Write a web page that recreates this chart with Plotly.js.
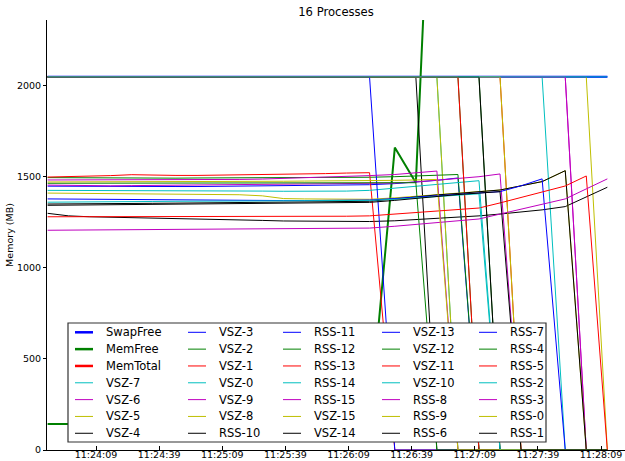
<!DOCTYPE html>
<html><head><meta charset="utf-8">
<script src="https://cdn.plot.ly/plotly-3.0.1.min.js"></script>
<style>html,body{margin:0;padding:0;background:#fff}#chart{width:625px;height:461px}</style>
</head><body><div id="chart"></div>
<script>
// ---- data ----
const day = '2024-01-01 ';
const times = ["11:23:46","11:23:56","11:24:06","11:24:16","11:24:26","11:24:36","11:24:47","11:24:57","11:25:07","11:25:17","11:25:28","11:25:38","11:25:48","11:25:58","11:26:08","11:26:19","11:26:31","11:26:41","11:26:51","11:27:01","11:27:11","11:27:21","11:27:31","11:27:41","11:27:52","11:28:02","11:28:12"];
const tickLabels = ["11:24:09","11:24:39","11:25:09","11:25:39","11:26:09","11:26:39","11:27:09","11:27:39","11:28:09"];
const yTicks = [0,500,1000,1500,2000];

const swapFree = [2048,2048,2048,2048,2048,2048,2048,2048,2048,2048,2048,2048,2048,2048,2048,2048,2048,2048,2048,2048,2048,2048,2048,2048,2048,2048,2048];
const memFree  = [143,143,143,143,143,143,143,143,143,143,143,143,143,143,143,143,1660,1467,4050,4060,4065,4070,4075,4078,4080,4083,4085];
const memTotal = [4096,4096,4096,4096,4096,4096,4096,4096,4096,4096,4096,4096,4096,4096,4096,4096,4096,4096,4096,4096,4096,4096,4096,4096,4096,4096,4096];

const vsz0  = [2048,2048,2048,2048,2048,2048,2048,2048,2048,2048,2048,2048,2048,2048,2048,2048,2048,2048,2048,0,0,0,0,0,0,0,0];
const vsz1  = [2048,2048,2048,2048,2048,2048,2048,2048,2048,2048,2048,2048,2048,2048,2048,2048,2048,2048,2048,2048,2048,2048,0,0,0,0,0];
const vsz2  = [2048,2048,2048,2048,2048,2048,2048,2048,2048,2048,2048,2048,2048,2048,2048,2048,2048,2048,2048,2048,2048,0,0,0,0,0,0];
const vsz3  = [2048,2048,2048,2048,2048,2048,2048,2048,2048,2048,2048,2048,2048,2048,2048,2048,2048,2048,2048,2048,2048,2048,2048,2048,2048,2048,2048];
const vsz4  = [2048,2048,2048,2048,2048,2048,2048,2048,2048,2048,2048,2048,2048,2048,2048,2048,2048,2048,0,0,0,0,0,0,0,0,0];
const vsz5  = [2048,2048,2048,2048,2048,2048,2048,2048,2048,2048,2048,2048,2048,2048,2048,2048,2048,2048,2048,2048,2048,2048,2048,2048,2048,2048,0];
const vsz6  = [2048,2048,2048,2048,2048,2048,2048,2048,2048,2048,2048,2048,2048,2048,2048,2048,2048,2048,2048,2048,2048,2048,2048,2048,2048,0,0];
const vsz7  = [2048,2048,2048,2048,2048,2048,2048,2048,2048,2048,2048,2048,2048,2048,2048,2048,2048,2048,2048,2048,2048,2048,2048,2048,0,0,0];
const vsz8  = [2048,2048,2048,2048,2048,2048,2048,2048,2048,2048,2048,2048,2048,2048,2048,2048,2048,2048,2048,0,0,0,0,0,0,0,0];
const vsz9  = [2048,2048,2048,2048,2048,2048,2048,2048,2048,2048,2048,2048,2048,2048,2048,2048,2048,2048,2048,2048,2048,2048,2048,2048,2048,0,0];
const vsz10 = [2048,2048,2048,2048,2048,2048,2048,2048,2048,2048,2048,2048,2048,2048,2048,2048,2048,2048,2048,2048,2048,2048,2048,2048,2048,2048,2048];
const vsz11 = [2048,2048,2048,2048,2048,2048,2048,2048,2048,2048,2048,2048,2048,2048,2048,2048,2048,2048,2048,2048,0,0,0,0,0,0,0];
const vsz12 = [2048,2048,2048,2048,2048,2048,2048,2048,2048,2048,2048,2048,2048,2048,2048,2048,2048,2048,2048,2048,0,0,0,0,0,0,0];
const vsz13 = [2048,2048,2048,2048,2048,2048,2048,2048,2048,2048,2048,2048,2048,2048,2048,2048,0,0,0,0,0,0,0,0,0,0,0];
const vsz14 = [2048,2048,2048,2048,2048,2048,2048,2048,2048,2048,2048,2048,2048,2048,2048,2048,2048,2048,2048,2048,2048,0,0,0,0,0,0];
const vsz15 = [2048,2048,2048,2048,2048,2048,2048,2048,2048,2048,2048,2048,2048,2048,2048,2048,2048,2048,2048,2048,2048,2048,0,0,0,0,0];

const rss0  = [1471,1471,1472,1472,1472,1473,1473,1473,1474,1474,1475,1475,1476,1476,1477,1478,1480,1482,1485,0,0,0,0,0,0,0,0];
const rss1  = [1343,1344,1345,1346,1347,1348,1349,1350,1351,1352,1353,1354,1355,1356,1357,1359,1370,1382,1393,1402,1410,1418,0,0,0,0,0];
const rss2  = [1360,1360,1361,1362,1363,1364,1365,1366,1366,1367,1367,1367,1368,1368,1369,1370,1376,1384,1392,1400,1406,0,0,0,0,0,0];
const rss3  = [1206,1207,1208,1209,1210,1210,1211,1212,1213,1213,1214,1214,1215,1215,1216,1218,1228,1238,1248,1258,1268,1295,1323,1350,1378,1433,1488];
const rss4  = [1464,1464,1464,1463,1463,1463,1463,1464,1464,1464,1465,1465,1465,1465,1466,1466,1466,1467,0,0,0,0,0,0,0,0,0];
const rss5  = [1280,1280,1281,1281,1281,1281,1281,1281,1281,1281,1281,1281,1281,1282,1283,1285,1295,1305,1312,1320,1328,1356,1386,1416,1449,1504,0];
const rss6  = [1350,1350,1351,1352,1353,1354,1355,1356,1357,1358,1359,1360,1361,1362,1363,1365,1378,1390,1400,1408,1416,1427,1450,1473,1533,0,0];
const rss7  = [1378,1377,1376,1376,1375,1374,1372,1370,1369,1369,1369,1369,1369,1370,1370,1372,1380,1388,1395,1402,1409,1418,1450,1488,0,0,0];
const rss8  = [1482,1482,1481,1481,1481,1482,1483,1483,1484,1485,1487,1490,1495,1500,1503,1506,1512,1520,1531,0,0,0,0,0,0,0,0];
const rss9  = [1410,1409,1408,1407,1406,1405,1404,1403,1402,1401,1395,1380,1378,1377,1377,1376,1384,1392,1400,1408,1416,1427,1450,1473,1533,0,0];
const rss10 = [1299,1285,1280,1278,1276,1274,1272,1270,1268,1265,1260,1257,1256,1255,1254,1254,1258,1264,1270,1277,1285,1295,1305,1318,1336,1390,1442];
const rss11 = [1448,1447,1446,1445,1445,1445,1446,1446,1447,1447,1448,1449,1450,1452,1454,1456,1462,1470,1480,1493,0,0,0,0,0,0,0];
const rss12 = [1495,1494,1493,1492,1492,1492,1492,1493,1493,1493,1494,1494,1495,1495,1496,1497,1500,1503,1507,1512,0,0,0,0,0,0,0];
const rss13 = [1498,1500,1503,1506,1511,1508,1507,1507,1508,1509,1510,1512,1514,1517,1520,1522,0,0,0,0,0,0,0,0,0,0,0];
const rss14 = [1425,1425,1424,1424,1424,1423,1423,1422,1422,1421,1421,1420,1420,1420,1421,1425,1437,1448,1458,1468,1478,0,0,0,0,0,0];
const rss15 = [1454,1452,1450,1450,1451,1452,1452,1453,1453,1454,1455,1456,1457,1458,1459,1460,1465,1471,1480,1490,1500,1515,0,0,0,0,0];

// series in plotting / legend order
const seriesNames = ["SwapFree","MemFree","MemTotal","VSZ-7","VSZ-6","VSZ-5","VSZ-4","VSZ-3","VSZ-2","VSZ-1","VSZ-0","VSZ-9","VSZ-8","RSS-10","RSS-11","RSS-12","RSS-13","RSS-14","RSS-15","VSZ-15","VSZ-14","VSZ-13","VSZ-12","VSZ-11","VSZ-10","RSS-8","RSS-9","RSS-6","RSS-7","RSS-4","RSS-5","RSS-2","RSS-3","RSS-0","RSS-1"];
const seriesValues = [swapFree,memFree,memTotal,vsz7,vsz6,vsz5,vsz4,vsz3,vsz2,vsz1,vsz0,vsz9,vsz8,rss10,rss11,rss12,rss13,rss14,rss15,vsz15,vsz14,vsz13,vsz12,vsz11,vsz10,rss8,rss9,rss6,rss7,rss4,rss5,rss2,rss3,rss0,rss1];
const colorCycle = ['#0000ff','#008000','#ff0000','#00bfbf','#bf00bf','#bfbf00','#000000'];

// ---- layout geometry (pixels) ----
const FONT = 'DejaVu Sans, sans-serif';
const L = 47, T = 20, R = 625, B = 450;
const pw = R - L, ph = B - T;
const px2x = p => (p - L) / pw;
const py2y = p => (B - p) / ph;

const xs = times.map(t => day + t);
const traces = seriesNames.map((n, i) => ({
  type: 'scatter', mode: 'lines', name: n, x: xs, y: seriesValues[i],
  line: {color: colorCycle[i % 7], width: i < 3 ? 2 : 1},
  showlegend: false, hoverinfo: 'skip'
}));

// legend drawn as shapes + text, 5 columns x 7 rows, column-major
const shapes = [{type:'rect', xref:'paper', yref:'paper', layer:'above',
  x0: px2x(68), x1: px2x(546), y0: py2y(442), y1: py2y(323),
  fillcolor:'#ffffff', line:{color:'#333333', width:1.2}}];
const annotations = [];
const colX = [75, 188, 283, 382, 479];
seriesNames.forEach((n, k) => {
  const c = Math.floor(k / 7), r = k % 7;
  const yy = 332.3 + 16.83 * r;
  shapes.push({type:'line', xref:'paper', yref:'paper', layer:'above',
    x0: px2x(colX[c]), x1: px2x(colX[c] + 18), y0: py2y(yy), y1: py2y(yy),
    line:{color: colorCycle[k % 7], width: k < 3 ? 2.5 : 1}});
  annotations.push({xref:'paper', yref:'paper', x: px2x(colX[c] + 29), y: py2y(yy),
    xanchor:'left', yanchor:'middle', showarrow:false, text:n,
    font:{family:FONT, size:11.5, color:'#000'}});
});

const xRange = [day + '11:23:45.7', day + '11:28:20.4'];
const layout = {
  width: 625, height: 461,
  margin: {l: L, r: 625 - R, t: T, b: 461 - B},
  paper_bgcolor: '#fff', plot_bgcolor: '#fff',
  font: {family: FONT, size: 9.5, color: '#000'},
  title: {text: '16 Processes', font: {family: FONT, size: 11.6, color: '#000'},
          x: 0.5, xref: 'paper', y: 1 - 11.5 / 461, yref: 'container', yanchor: 'middle'},
  showlegend: false,
  xaxis: {type: 'date', range: xRange, tickvals: tickLabels.map(t => day + t), ticktext: tickLabels,
          ticks: 'inside', ticklen: 4, tickcolor: '#000', showline: true, linecolor: '#000', linewidth: 1,
          showgrid: false, zeroline: false, tickfont: {size: 9.5}, ticklabelstandoff: -4},
  xaxis2: {type: 'date', range: xRange, overlaying: 'x', side: 'top', tickvals: tickLabels.map(t => day + t),
           ticks: 'inside', ticklen: 4, tickcolor: '#000', showline: true, linecolor: '#808080', linewidth: 1,
           showticklabels: false, showgrid: false, zeroline: false},
  yaxis: {range: [0, 2360], tickvals: yTicks, ticktext: yTicks.map(String),
          ticks: 'outside', ticklen: 3, tickcolor: '#000', showline: true, linecolor: '#000', linewidth: 1,
          showgrid: false, zeroline: false, tickfont: {size: 9.5},
          title: {text: 'Memory (MB)', font: {size: 9.5}, standoff: 1}},
  shapes: shapes, annotations: annotations
};
Plotly.newPlot('chart', traces, layout, {staticPlot: true});
</script></body></html>
